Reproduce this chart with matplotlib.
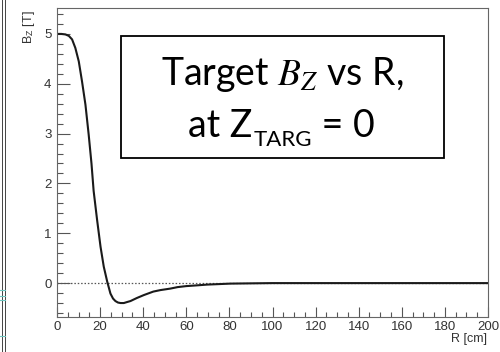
import matplotlib
matplotlib.use("Agg")
import matplotlib.pyplot as plt
from matplotlib.ticker import MultipleLocator
from matplotlib.patches import Rectangle
from matplotlib.lines import Line2D

# Data
R_cm = [0, 2, 3.9, 5.5, 7.0, 8.5, 10.1, 11.6, 13.2, 14.7, 16.0, 17.0, 18.6, 20.2,
        21.7, 23.3, 24.8, 26.0, 27.1, 28.3, 29.5, 31.0, 32.5, 34.1, 37.0, 40.3,
        44.7, 48.0, 52.6, 56.0, 60.0, 65.0, 69.6, 75.0, 80.5, 90.0, 100.0, 120.0, 160.0, 200.0]
Bz_T = [5.0, 5.0, 4.99, 4.96, 4.89, 4.72, 4.45, 4.05, 3.58, 2.98, 2.4, 1.85, 1.27, 0.73,
        0.33, 0.03, -0.21, -0.31, -0.36, -0.39, -0.40, -0.40, -0.38, -0.36, -0.30, -0.24,
        -0.17, -0.14, -0.11, -0.08, -0.06, -0.045, -0.03, -0.02, -0.01, -0.005, 0.0, 0.0, 0.0, 0.0]
x_ticks = [0, 20, 40, 60, 80, 100, 120, 140, 160, 180, 200]
y_ticks = [0, 1, 2, 3, 4, 5]

W, H = 500, 352
fig = plt.figure(figsize=(W / 100, H / 100), dpi=100)
fig.patch.set_facecolor("white")
plt.rcParams["mathtext.fontset"] = "stix"

L, Rr, T, B = 57, 488, 8, 317
ax = fig.add_axes([L / W, 1 - B / H, (Rr - L) / W, (B - T) / H])

ax.axhline(0, color="#555555", lw=0.9, ls=(0, (1.2, 1.5)), zorder=1)
ax.plot(R_cm, Bz_T, color="#1a1a1a", lw=1.5, zorder=2,
        solid_joinstyle="round", solid_capstyle="round")

ax.set_xlim(0, 200)
ax.set_ylim(-0.68, 5.52)
ax.set_xticks(x_ticks)
ax.set_yticks(y_ticks)
ax.xaxis.set_minor_locator(MultipleLocator(5))
ax.yaxis.set_minor_locator(MultipleLocator(0.2))

tfont = dict(family="Liberation Sans", size=9.5, color="#333333")
ax.set_xticklabels([str(v) for v in x_ticks], fontdict=tfont)
ax.set_yticklabels([str(v) for v in y_ticks], fontdict=tfont)
ax.tick_params(axis="both", which="both", direction="in", color="#555555", width=0.8)
ax.tick_params(axis="y", which="major", length=9, pad=4)
ax.tick_params(axis="y", which="minor", length=4.5)
ax.tick_params(axis="x", which="major", length=7.5, pad=3)
ax.tick_params(axis="x", which="minor", length=3.5)
for s in ax.spines.values():
    s.set_color("#666666")
    s.set_linewidth(0.8)

fig.text(487 / W, 1 - 339 / H, "R [cm]", ha="right", va="center",
         family="Liberation Sans", size=9, color="#333333")
fig.text(29 / W, 1 - 10 / H, r"B$_{\mathregular{Z}}$ [T]", ha="center", va="top", rotation=90,
         family="Liberation Sans", size=9, color="#333333")

# Annotation box
fig.patches.append(Rectangle((121 / W, 1 - 158 / H), (444 - 121) / W, (158 - 36) / H,
                             transform=fig.transFigure, fill=True, facecolor="white",
                             edgecolor="black", lw=1.3, zorder=5))
fig.text(282 / W, 1 - 85 / H, r"Target $B_Z$ vs R,", ha="center", va="baseline",
         family="Lato", size=27, zorder=6)

# second line: "at Z" + subscript "TARG" + " = 0", laid out piecewise
renderer = fig.canvas.get_renderer()
pieces = [("at Z", 27, 137), ("TARG", 16, 146), (" = 0", 27, 137)]
x0 = 188
for txt, sz, base in pieces:
    t = fig.text(x0 / W, 1 - base / H, txt, ha="left", va="baseline",
                 family="Lato", size=sz, zorder=6)
    bb = t.get_window_extent(renderer=renderer)
    x0 += bb.width + (1 if txt == "at Z" else 0)

# left edge artifact lines
for xp in (1.5, 4.5):
    fig.lines.append(Line2D([xp / W, xp / W], [0, 1], transform=fig.transFigure,
                            color="#444444", lw=0.7))
for yp in (290, 296, 300, 336):
    fig.lines.append(Line2D([0, 5 / W], [1 - yp / H, 1 - yp / H], transform=fig.transFigure,
                            color="#6fc6c0", lw=0.8))

fig.savefig("out.png", dpi=100)
